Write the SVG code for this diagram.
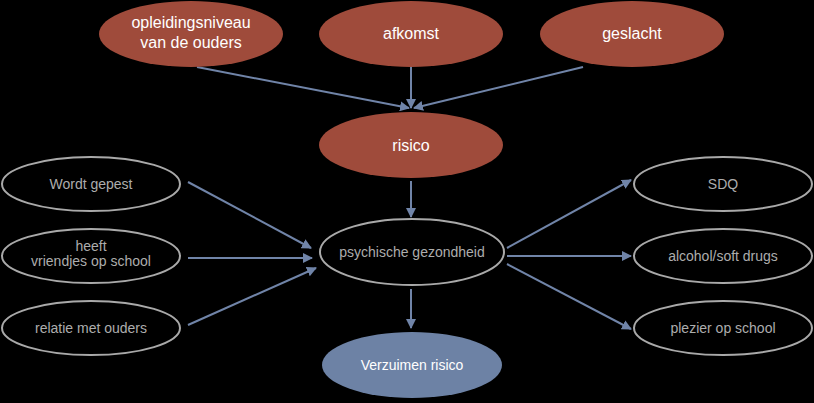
<svg xmlns="http://www.w3.org/2000/svg" width="814" height="403" viewBox="0 0 814 403">
<defs>
<marker id="ah" viewBox="0 0 10 10" refX="9" refY="5" markerWidth="10" markerHeight="10" markerUnits="userSpaceOnUse" orient="auto">
<path d="M0,0 L10,5 L0,10 z" fill="#7084a8"/>
</marker>
</defs>
<style>
.red{fill:#9f4b3b}
.blue{fill:#6d82a5}
.out{fill:none;stroke:#a9a9a9;stroke-width:2}
.tw{font-family:"Liberation Sans",Arial,sans-serif;font-size:16px;fill:#ffffff;text-anchor:middle}
.tg{font-family:"Liberation Sans",Arial,sans-serif;font-size:14px;fill:#adadad;text-anchor:middle}
.c{stroke:#7084a8;stroke-width:2;fill:none;marker-end:url(#ah)}
</style>
<rect width="814" height="403" fill="#000"/>
<g id="connectors">
<line class="c" x1="197" y1="67" x2="409" y2="108"/>
<line class="c" x1="411" y1="67" x2="411" y2="108"/>
<line class="c" x1="583" y1="67" x2="414" y2="108"/>
<line class="c" x1="411" y1="181" x2="411" y2="217"/>
<line class="c" x1="188" y1="182" x2="311" y2="248"/>
<line class="c" x1="188" y1="258" x2="312" y2="258"/>
<line class="c" x1="188" y1="325" x2="316" y2="268"/>
<line class="c" x1="507" y1="248" x2="631" y2="180"/>
<line class="c" x1="507" y1="256" x2="631" y2="256"/>
<line class="c" x1="507" y1="264" x2="631" y2="329"/>
<line class="c" x1="411" y1="289" x2="411" y2="328"/>
</g>
<g id="opleidingsniveau"><ellipse class="red" cx="191" cy="34" rx="92" ry="33"/><text class="tw" x="191" y="28">opleidingsniveau</text><text class="tw" x="191" y="48">van de ouders</text></g>
<g id="afkomst"><ellipse class="red" cx="411" cy="34" rx="92" ry="33"/><text class="tw" x="411" y="39">afkomst</text></g>
<g id="geslacht"><ellipse class="red" cx="632" cy="34" rx="92" ry="33"/><text class="tw" x="632" y="39">geslacht</text></g>
<g id="risico"><ellipse class="red" cx="411" cy="145" rx="92" ry="33"/><text class="tw" x="411" y="151">risico</text></g>
<g id="psychische"><ellipse class="out" cx="412" cy="252" rx="92" ry="33"/><text class="tg" x="412" y="257">psychische gezondheid</text></g>
<g id="verzuimen"><ellipse class="blue" cx="412" cy="365" rx="90" ry="33"/><text class="tw" x="412" y="370" style="font-size:14px">Verzuimen risico</text></g>
<g id="wordt"><ellipse class="out" cx="91" cy="184" rx="89" ry="27"/><text class="tg" x="91" y="189">Wordt gepest</text></g>
<g id="heeft"><ellipse class="out" cx="91" cy="256" rx="89" ry="27"/><text class="tg" x="91" y="251">heeft</text><text class="tg" x="91" y="266">vriendjes op school</text></g>
<g id="relatie"><ellipse class="out" cx="91" cy="328" rx="89" ry="27"/><text class="tg" x="91" y="333">relatie met ouders</text></g>
<g id="sdq"><ellipse class="out" cx="723" cy="184" rx="89" ry="27"/><text class="tg" x="723" y="189">SDQ</text></g>
<g id="alcohol"><ellipse class="out" cx="723" cy="256" rx="89" ry="27"/><text class="tg" x="723" y="261">alcohol/soft drugs</text></g>
<g id="plezier"><ellipse class="out" cx="723" cy="328" rx="89" ry="27"/><text class="tg" x="723" y="333">plezier op school</text></g>
</svg>
